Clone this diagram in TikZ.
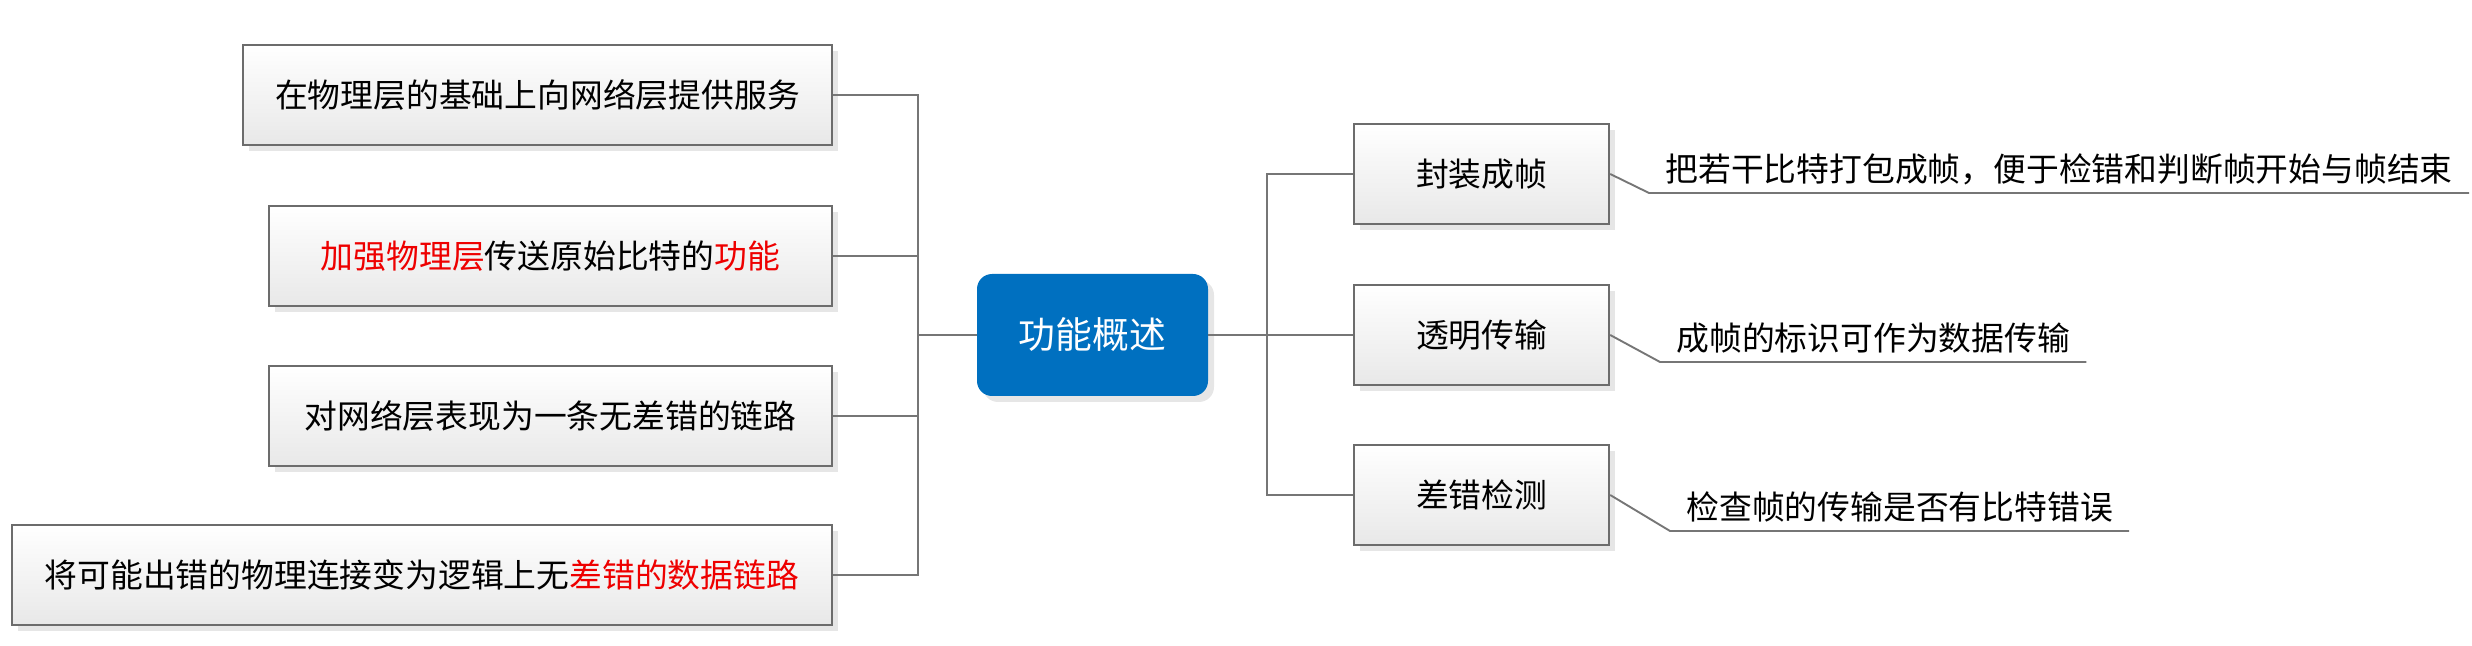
\documentclass[tikz,border=0pt]{standalone}
\usepackage{fontspec}
\setmainfont{Noto Sans CJK SC}
\usetikzlibrary{shadows}
\definecolor{linegray}{RGB}{118,118,118}
\definecolor{edgegray}{RGB}{108,108,108}
\definecolor{boxbottom}{RGB}{232,232,232}
\definecolor{shadowgray}{RGB}{230,230,230}
\definecolor{coreblue}{RGB}{0,112,192}
\definecolor{markred}{RGB}{238,0,0}
\newcommand{\redpart}[1]{\textcolor{markred}{#1}}

\begin{document}
\begin{tikzpicture}[x=0.5pt,y=-0.5pt]
        \tikzstyle{itembox}=[draw=edgegray,line width=1.1pt,top color=white,bottom color=boxbottom,minimum height=50pt,inner sep=0pt,font=\fontsize{16.4}{20}\selectfont,general shadow={fill=shadowgray,shadow xshift=3pt,shadow yshift=-3pt}]
        \tikzstyle{corebox}=[fill=coreblue,rounded corners=7.5pt,minimum width=115.5pt,minimum height=61pt,text=white,font=\fontsize{18.4}{22}\selectfont,general shadow={fill=shadowgray,shadow xshift=3pt,shadow yshift=-3pt}]
        \tikzstyle{notetext}=[anchor=south west,inner xsep=8pt,inner ysep=4pt,font=\fontsize{16.4}{20}\selectfont]
        \tikzstyle{link}=[draw=linegray,line width=0.95pt]
        \useasboundingbox (0,0) rectangle (2472,646);
        % centre
        \node[corebox] (core) at (1092.5,335) {功能概述};
        \coordinate (lbus) at (918,335);
        \coordinate (rbus) at (1267,335);
        % left side
        \node[itembox,minimum width=294.5pt,anchor=east] (l1) at (833,95) {在物理层的基础上向网络层提供服务};
        \node[itembox,minimum width=281.5pt,anchor=east] (l2) at (833,256) {\redpart{加强物理层}传送原始比特的\redpart{功能}};
        \node[itembox,minimum width=281.5pt,anchor=east] (l3) at (833,416) {对网络层表现为一条无差错的链路};
        \node[itembox,minimum width=410pt,anchor=east] (l4) at (833,575) {将可能出错的物理连接变为逻辑上无\redpart{差错的数据链路}};
        % right side
        \node[itembox,minimum width=127.5pt,anchor=west] (r1) at (1353,174) {封装成帧};
        \node[itembox,minimum width=127.5pt,anchor=west] (r2) at (1353,335) {透明传输};
        \node[itembox,minimum width=127.5pt,anchor=west] (r3) at (1353,495) {差错检测};
        \node[notetext] (d1) at (1649,193) {把若干比特打包成帧，便于检错和判断帧开始与帧结束};
        \node[notetext] (d2) at (1660,362) {成帧的标识可作为数据传输};
        \node[notetext] (d3) at (1670,531) {检查帧的传输是否有比特错误};
        % connectors
        \draw[link] (core.west) -- (lbus);
        \draw[link] (l1.east) -| (lbus);
        \draw[link] (l2.east) -| (lbus);
        \draw[link] (l3.east) -| (lbus);
        \draw[link] (l4.east) -| (lbus);
        \draw[link] (core.east) -- (rbus);
        \draw[link] (rbus) |- (r1.west);
        \draw[link] (rbus) |- (r2.west);
        \draw[link] (rbus) |- (r3.west);
        \draw[link] (r1.east) -- (d1.south west) -- (d1.south east);
        \draw[link] (r2.east) -- (d2.south west) -- (d2.south east);
        \draw[link] (r3.east) -- (d3.south west) -- (d3.south east);
\end{tikzpicture}
\end{document}
